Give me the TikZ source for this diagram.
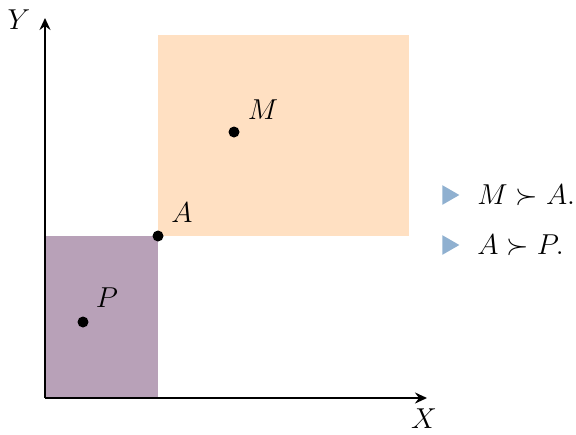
\documentclass[tikz,border=0pt]{standalone}
\usepackage{amsmath}
\usepackage{tikz}
\usetikzlibrary{arrows.meta,positioning,calc,shapes.geometric}
\definecolor{peach}{RGB}{255,224,194}
\definecolor{mauve}{RGB}{184,161,184}
\definecolor{itemblue}{RGB}{143,176,208}

\begin{document}
\begin{tikzpicture}[x=0.5pt, y=-0.5pt, >={Stealth[length=6pt,width=5.5pt,inset=2pt]}, font=\fontsize{14.5}{17}\selectfont]
  \tikzstyle{dot} = [circle, fill=black, inner sep=0pt, minimum size=5.5pt]
  \tikzstyle{axis} = [->, line width=1.2pt]
  \tikzstyle{bullet} = [isosceles triangle, fill=itemblue, inner sep=0pt, minimum height=8.5pt, minimum width=8pt, isosceles triangle apex angle=60]

  \useasboundingbox (0,0) rectangle (576,434);

  % regions
  \fill[mauve] (45,236) rectangle (158,398);
  \fill[peach] (158,35) rectangle (409,236);

  % axes
  \coordinate (O) at (45,398);
  \coordinate (yend) at (45,18);
  \coordinate (xend) at (427,398);
  \draw[axis] (O) -- (yend);
  \draw[axis] (O) -- (xend);
  \node (ylab) at (19,20) {$Y$};
  \node (xlab) at (424,419) {$X$};

  % points
  \node[dot] (A) at (158,236) {};
  \node[dot] (M) at (234,132) {};
  \node[dot] (P) at (83,322) {};
  \node (Alab) at (182,213) {$A$};
  \node (Mlab) at (263,110) {$M$};
  \node (Plab) at (107,298) {$P$};

  % legend
  \node[bullet] (b1) at (448,195) {};
  \node[bullet] (b2) at (448,245) {};
  \node[anchor=west, inner sep=0pt] (l1) at (477,195) {$M \succ A.$};
  \node[anchor=west, inner sep=0pt] (l2) at (477,245) {$A \succ P.$};
\end{tikzpicture}
\end{document}
